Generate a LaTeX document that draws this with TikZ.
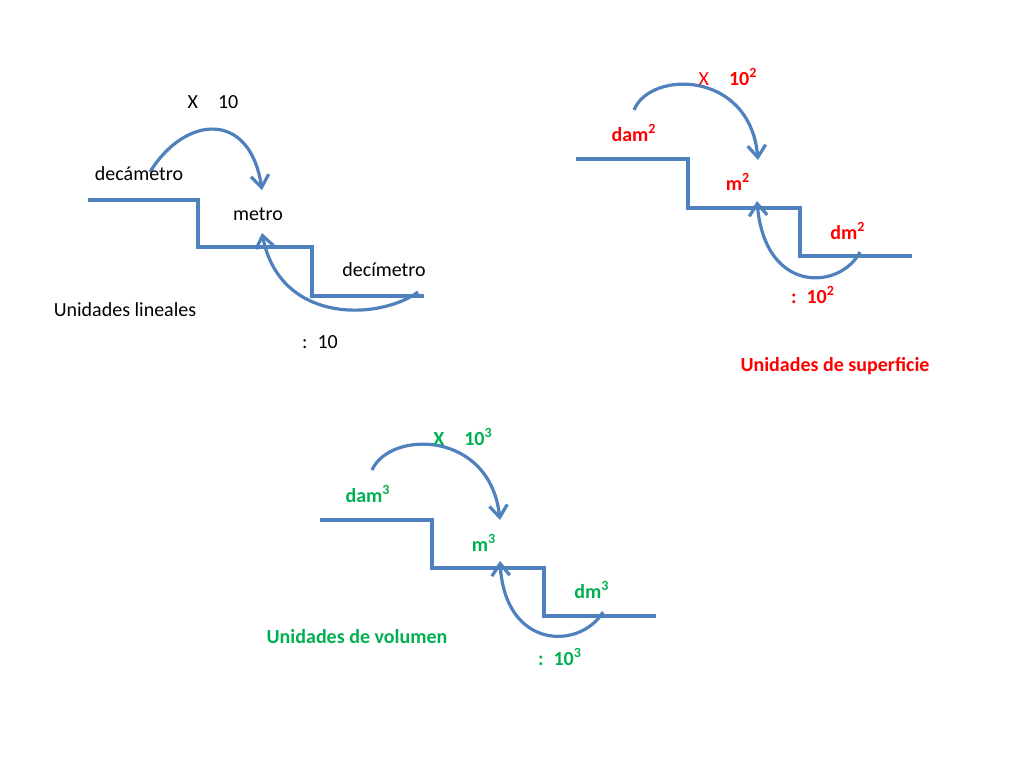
\documentclass[tikz,border=0pt]{standalone}
\usepackage{fontspec}
\setmainfont{Carlito}
\usetikzlibrary{arrows.meta}
\definecolor{stairblue}{RGB}{79,129,189}
\definecolor{supred}{RGB}{255,0,0}
\definecolor{volgreen}{RGB}{0,176,80}
\tikzset{
  stair/.style={stairblue, line width=1.6pt},
  jump/.style={stairblue, line width=1.6pt, -{Straight Barb[length=6pt,width=9pt]}},
  lbl/.style={font=\fontsize{10}{12}\selectfont, inner sep=0pt},
  blbl/.style={font=\fontsize{10}{12}\selectfont\bfseries, inner sep=0pt}
}
\begin{document}
\begin{tikzpicture}[x=0.5pt, y=-0.5pt]
    \useasboundingbox (0,0) rectangle (1024,768);
    % lineales
    \draw[stair] (88,200) -- (198,200) -- (198,247) -- (312,247) -- (312,296) -- (424,296);
    \coordinate (l1) at (150,172);
    \coordinate (l2) at (262,190);
    \coordinate (l3) at (418,292);
    \coordinate (l4) at (262,233);
    \draw[jump] (l1) .. controls (185,115) and (250,110) .. (l2);
    \draw[jump] (l3) .. controls (380,320) and (280,325) .. (l4);
    \node[lbl] (lx) at (213,102) {X\quad 10};
    \node[lbl] (ldam) at (139,174) {decámetro};
    \node[lbl] (lm) at (258,214) {metro};
    \node[lbl] (ldm) at (384,270) {decímetro};
    \node[lbl] (ltit) at (125,310) {Unidades lineales};
    \node[lbl] (ldiv) at (320,342) {:\enspace 10};
    % superficie
    \draw[stair] (576,159) -- (688,159) -- (688,208) -- (800,208) -- (800,256) -- (912,256);
    \coordinate (s1) at (634,110);
    \coordinate (s2) at (758,160);
    \coordinate (s3) at (860,252);
    \coordinate (s4) at (757,201);
    \draw[jump] (s1) .. controls (650,70) and (750,70) .. (s2);
    \draw[jump] (s3) .. controls (840,290) and (765,295) .. (s4);
    \node[lbl, supred] (sx) at (728,77) {X\quad \textbf{10\textsuperscript{2}}};
    \node[blbl, supred] (sdam) at (634,133) {dam\textsuperscript{2}};
    \node[blbl, supred] (sm) at (738,182) {m\textsuperscript{2}};
    \node[blbl, supred] (sdm) at (848,231) {dm\textsuperscript{2}};
    \node[blbl, supred] (sdiv) at (813,295) {:\enspace 10\textsuperscript{2}};
    \node[blbl, supred] (stit) at (835,366) {Unidades de superficie};
    % volumen
    \draw[stair] (320,520) -- (432,520) -- (432,568) -- (544,568) -- (544,616) -- (656,616);
    \coordinate (v1) at (372,470);
    \coordinate (v2) at (500,520);
    \coordinate (v3) at (603,612);
    \coordinate (v4) at (500,561);
    \draw[jump] (v1) .. controls (390,430) and (490,430) .. (v2);
    \draw[jump] (v3) .. controls (580,650) and (505,650) .. (v4);
    \node[blbl, volgreen] (vx) at (463,437) {X\quad 10\textsuperscript{3}};
    \node[blbl, volgreen] (vdam) at (368,494) {dam\textsuperscript{3}};
    \node[blbl, volgreen] (vm) at (484,543) {m\textsuperscript{3}};
    \node[blbl, volgreen] (vdm) at (592,590) {dm\textsuperscript{3}};
    \node[blbl, volgreen] (vtit) at (357,637) {Unidades de volumen};
    \node[blbl, volgreen] (vdiv) at (560,657) {:\enspace 10\textsuperscript{3}};
\end{tikzpicture}
\end{document}
